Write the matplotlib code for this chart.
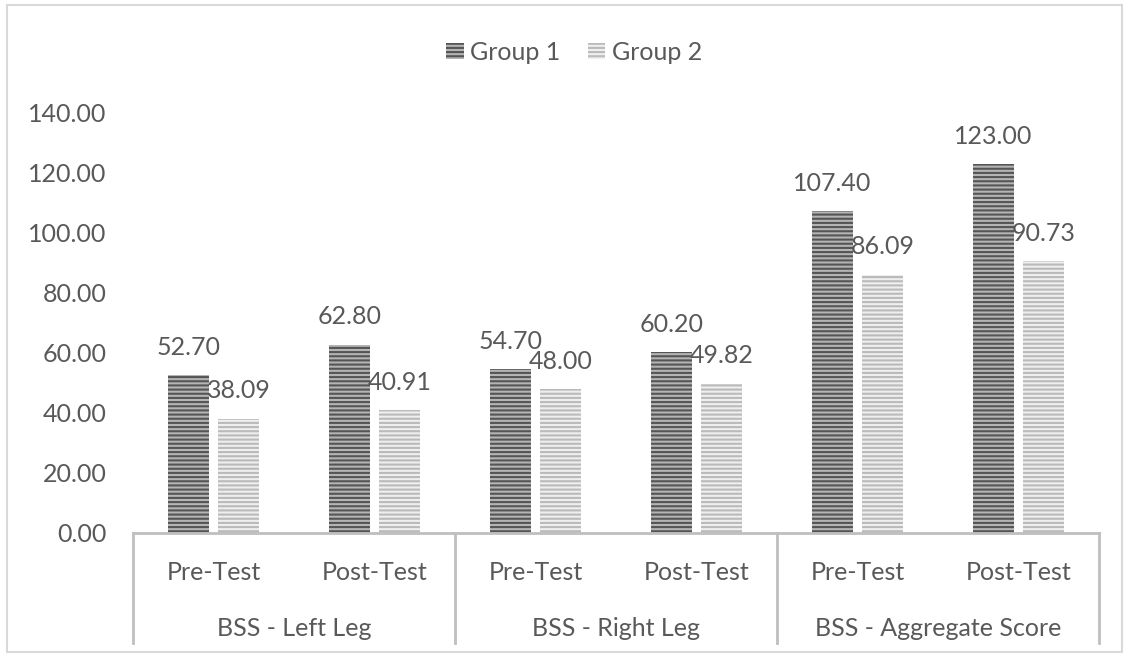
import matplotlib
matplotlib.use("Agg")
import matplotlib.pyplot as plt
import matplotlib.patches as mpatches
import matplotlib.transforms as mtransforms
import numpy as np

# Дані: шкала балансу (BSS) до та після тренувань
tests = ["Pre-Test", "Post-Test", "Pre-Test", "Post-Test", "Pre-Test", "Post-Test"]
sections = ["BSS - Left Leg", "BSS - Right Leg", "BSS - Aggregate Score"]
group1 = [52.70, 62.80, 54.70, 60.20, 107.40, 123.00]
group2 = [38.09, 40.91, 48.00, 49.82, 86.09, 90.73]
yticks = [0, 20, 40, 60, 80, 100, 120, 140]

text_col = "#595959"
axis_col = "#bfbfbf"

plt.rcParams["font.family"] = ["Lato", "DejaVu Sans"]
plt.rcParams["hatch.linewidth"] = 1.5

fig = plt.figure(figsize=(11.29, 6.57), dpi=100)
ax = fig.add_axes([133 / 1129, 124 / 657, 966 / 1129, 420 / 657])

x = np.arange(len(tests))
w = 0.25
off = 0.155

b1 = ax.bar(x - off, group1, w, color="#b4b4b4", edgecolor="#555555",
            linewidth=0, hatch="----", label="Group 1")
b2 = ax.bar(x + off, group2, w, color="#efefef", edgecolor="#bababa",
            linewidth=0, hatch="----", label="Group 2")

# підписи значень над стовпцями
for bars, vals in ((b1, group1), (b2, group2)):
    for rect, v in zip(bars, vals):
        ax.annotate(f"{v:.2f}", (rect.get_x() + rect.get_width() / 2, v),
                    xytext=(0, 20), textcoords="offset points",
                    ha="center", va="center", fontsize=18, color=text_col)

ax.set_xlim(-0.5, len(tests) - 0.5)
ax.set_ylim(0, 140)
ax.set_yticks(yticks)
ax.set_yticklabels([f"{t:.2f}" for t in yticks])
ax.tick_params(axis="y", length=0, pad=19, labelsize=18, labelcolor=text_col)

ax.set_xticks(x)
ax.set_xticklabels(tests)
ax.tick_params(axis="x", length=0, pad=20, labelsize=18, labelcolor=text_col)

for s in ["top", "right", "left"]:
    ax.spines[s].set_visible(False)
ax.spines["bottom"].set_color(axis_col)
ax.spines["bottom"].set_linewidth(2)

# дворівнева вісь категорій: роздільники та назви розділів
trans = mtransforms.blended_transform_factory(ax.transData, ax.transAxes)
for xs in np.arange(-0.5, len(tests), 2):
    ax.plot([xs, xs], [0, -0.262], transform=trans, color=axis_col,
            linewidth=2, clip_on=False)
for i, name in enumerate(sections):
    ax.text(2 * i + 0.5, -0.227, name, transform=trans, ha="center",
            va="center", fontsize=18, color=text_col)

leg = fig.legend(loc="center", bbox_to_anchor=(574 / 1129, 1 - 52 / 657),
                 ncol=2, frameon=False, fontsize=18, handlelength=0.7,
                 handleheight=0.6, handletextpad=0.25, columnspacing=1.1)
for t in leg.get_texts():
    t.set_color(text_col)

# рамка навколо всієї діаграми
fig.patches.append(mpatches.Rectangle((7 / 1129, 5 / 657), 1115 / 1129, 647 / 657,
                                      transform=fig.transFigure, fill=False,
                                      edgecolor="#d9d9d9", linewidth=1.5))

fig.savefig("out.png", dpi=100)
